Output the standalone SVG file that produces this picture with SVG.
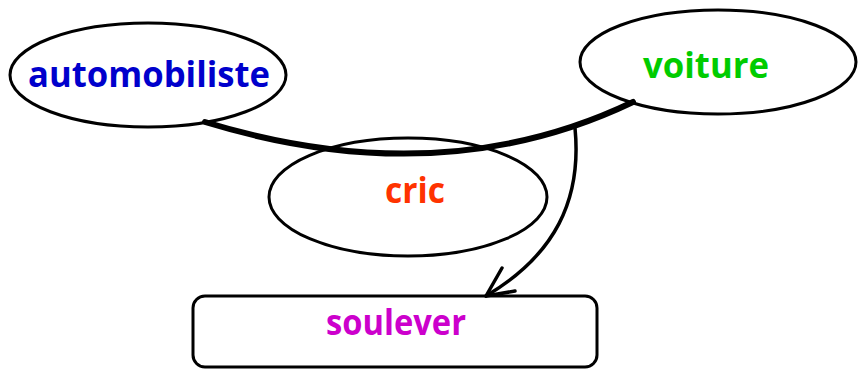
<svg xmlns="http://www.w3.org/2000/svg" width="866" height="369" viewBox="0 0 866 369">
<style>
.n{fill:#fff;stroke:#000;stroke-width:3}
.t{font-family:"Open Sans","Liberation Sans",sans-serif;font-weight:bold;font-size:36px;text-anchor:middle}
</style>
<rect width="866" height="369" fill="#fff"/>
<g id="automobiliste"><ellipse class="n" cx="148" cy="75" rx="138" ry="52"/><text class="t" x="149" y="87" fill="#0000CC" textLength="242" lengthAdjust="spacingAndGlyphs">automobiliste</text></g>
<g id="voiture"><ellipse class="n" cx="718" cy="62" rx="138" ry="52"/><text class="t" x="706" y="78" fill="#00CC00" textLength="126" lengthAdjust="spacingAndGlyphs">voiture</text></g>
<g id="cric"><ellipse class="n" cx="408" cy="197" rx="139" ry="59"/><text class="t" x="415" y="203" fill="#FF3300" textLength="60" lengthAdjust="spacingAndGlyphs">cric</text></g>
<g id="soulever"><rect class="n" x="193" y="296" width="404" height="71" rx="12"/><text class="t" x="396" y="335" fill="#CC00CC" textLength="140" lengthAdjust="spacingAndGlyphs">soulever</text></g>
<g id="connectors" fill="none" stroke="#000" stroke-linecap="round" stroke-linejoin="round">
<path d="M205,122 Q441,194 633,102" stroke-width="6"/>
<path d="M575,128 C582,200 555,255 486,296" stroke-width="3.5"/>
<path d="M502,268 L486,296 L515,291" stroke-width="3.5"/>
</g>
</svg>
